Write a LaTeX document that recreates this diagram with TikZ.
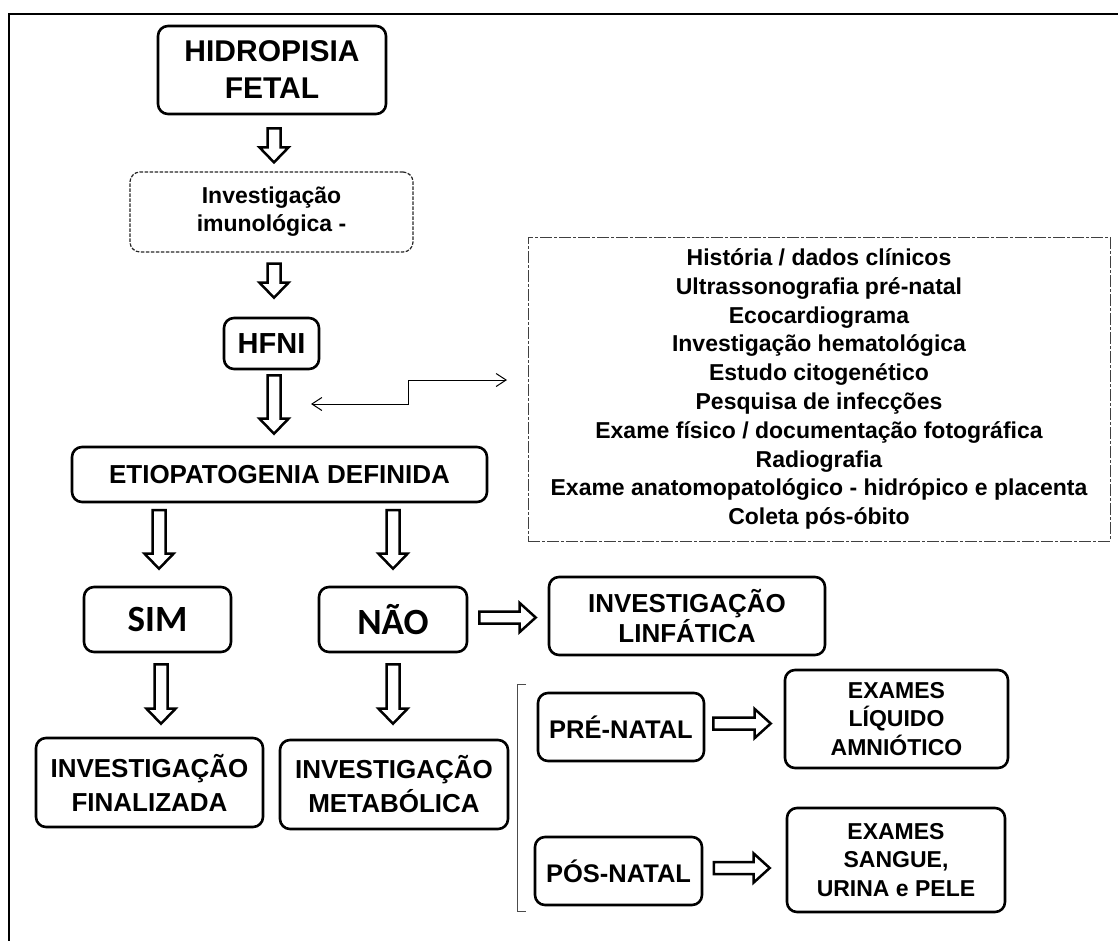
\documentclass[tikz,border=0pt]{standalone}
\usepackage{fontspec}
\setmainfont{Liberation Sans}
\newfontfamily\calib{Carlito}
\usetikzlibrary{calc,arrows.meta}
\tikzset{
  rbox/.style={draw, line width=2.6pt, rounded corners=10pt, align=center, inner sep=0pt, font=\bfseries},
  dbox/.style={draw=black!85, line width=1.2pt, dash pattern=on 3.5pt off 1.5pt, rounded corners=10pt, align=center, inner sep=0pt, font=\bfseries},
  lbox/.style={draw=black!75, line width=1pt, dash pattern=on 12pt off 2pt on 3pt off 2pt, align=center, inner sep=0pt, font=\bfseries},
  blk/.style={draw, fill=white, line width=2.5pt, line join=miter},
  thinarr/.style={line width=1pt, {Straight Barb[length=10pt,width=13pt]}-{Straight Barb[length=10pt,width=13pt]}},
}
\newcommand\varrow[2]{%
  \draw[blk] let \p1=(#1), \p2=(#2) in
  (\x1-6.5pt,\y1) -- (\x1+6.5pt,\y1) -- (\x1+6.5pt,\y2+15pt) -- (\x1+14.5pt,\y2+15pt)
  -- (\x1,\y2) -- (\x1-14.5pt,\y2+15pt) -- (\x1-6.5pt,\y2+15pt) -- cycle;}
\newcommand\harrow[2]{%
  \draw[blk] let \p1=(#1), \p2=(#2) in
  (\x1,\y1+6pt) -- (\x2-16pt,\y1+6pt) -- (\x2-16pt,\y1+14.5pt) -- (\x2,\y1)
  -- (\x2-16pt,\y1-14.5pt) -- (\x2-16pt,\y1-6pt) -- (\x1,\y1-6pt) -- cycle;}
\begin{document}
\begin{tikzpicture}[x=1pt,y=-1pt]
\useasboundingbox (0,0) rectangle (1118,940);
% outer frame (only top and left visible)
\coordinate (fbl) at (9,941);
\coordinate (ftl) at (9,14);
\coordinate (ftr) at (1119,14);
\draw[line width=2pt] (fbl) -- (ftl) -- (ftr);

% nodes
\node[rbox, minimum width=228pt, minimum height=88pt, font=\bfseries\fontsize{30}{37}\selectfont] (hf) at (272,70) {HIDROPISIA\\FETAL};
\node[dbox, minimum width=283pt, minimum height=80pt, font=\bfseries\fontsize{23}{28}\selectfont] (imu) at (271.5,212) {Investigação\\imunológica -};
\node[rbox, minimum width=95pt, minimum height=51pt, font=\bfseries\fontsize{29}{34}\selectfont] (hfni) at (271.5,343.5) {HFNI};
\node[rbox, minimum width=415pt, minimum height=55pt, font=\bfseries\fontsize{26}{31}\selectfont] (etio) at (279.5,474.5) {ETIOPATOGENIA DEFINIDA};
\node[rbox, minimum width=147pt, minimum height=65pt, font=\calib\bfseries\fontsize{37}{40}\selectfont] (sim) at (157.5,619.5) {SIM};
\node[rbox, minimum width=148pt, minimum height=65pt, font=\calib\bfseries\fontsize{37}{40}\selectfont] (nao) at (393,619.5) {NÃO};
\node[rbox, minimum width=227pt, minimum height=89pt, font=\bfseries\fontsize{26}{34}\selectfont] (fin) at (149.5,782.5) {INVESTIGAÇÃO\\FINALIZADA};
\node[rbox, minimum width=228pt, minimum height=89pt, font=\bfseries\fontsize{26}{34}\selectfont] (met) at (394,784.5) {INVESTIGAÇÃO\\METABÓLICA};
\node[rbox, minimum width=276pt, minimum height=78pt, font=\bfseries\fontsize{26}{30}\selectfont] (linf) at (687,616) {INVESTIGAÇÃO\\LINFÁTICA};
\node[rbox, minimum width=166pt, minimum height=68pt, font=\bfseries\fontsize{25.5}{30}\selectfont] (pre) at (621,727) {PRÉ-NATAL};
\node[rbox, minimum width=167pt, minimum height=68pt, font=\bfseries\fontsize{25.5}{30}\selectfont] (pos) at (618.5,871) {PÓS-NATAL};
\node[rbox, minimum width=223pt, minimum height=98pt, font=\bfseries\fontsize{23}{28.5}\selectfont] (exl) at (896.5,719) {EXAMES\\LÍQUIDO\\AMNIÓTICO};
\node[rbox, minimum width=218pt, minimum height=104pt, font=\bfseries\fontsize{23}{28.8}\selectfont] (exs) at (896,860) {EXAMES\\SANGUE,\\URINA e PELE};
\node[lbox, minimum width=582pt, minimum height=304pt, font=\bfseries\fontsize{23}{28.8}\selectfont] (lst) at (819,389)
 {História / dados clínicos\\Ultrassonografia pré-natal\\Ecocardiograma\\Investigação hematológica\\Estudo citogenético\\Pesquisa de infecções\\Exame físico / documentação fotográfica\\Radiografia\\Exame anatomopatológico - hidrópico e placenta\\Coleta pós-óbito};

% arrow end points
\coordinate (a1s) at ($(hf.south)+(2,13)$);   \coordinate (a1e) at ($(imu.north)+(2.5,-9)$);
\coordinate (a2s) at ($(imu.south)+(2.5,11)$); \coordinate (a2e) at ($(hfni.north)+(2.5,-19)$);
\coordinate (a3s) at ($(hfni.south)+(2.5,5)$); \coordinate (a3e) at ($(etio.north)+(-5.5,-12)$);
\coordinate (a4s) at (159,510); \coordinate (a4e) at ($(sim.north)+(1.5,-17)$);
\coordinate (a5s) at (393,510); \coordinate (a5e) at ($(nao.north)+(0,-17)$);
\coordinate (a6s) at ($(sim.south)+(3.5,11)$); \coordinate (a6e) at ($(fin.north)+(11.5,-13)$);
\coordinate (a7s) at ($(nao.south)+(0,11)$); \coordinate (a7e) at ($(met.north)+(-1,-15)$);
\coordinate (a8s) at ($(nao.east)+(11,-2)$); \coordinate (a8e) at ($(linf.west)+(-12,1.5)$);
\coordinate (a9s) at ($(pre.east)+(8,-3.5)$); \coordinate (a9e) at ($(exl.west)+(-13,4.5)$);
\coordinate (a10s) at ($(pos.east)+(10.5,-3)$); \coordinate (a10e) at ($(exs.west)+(-16,8)$);

\varrow{a1s}{a1e}
\varrow{a2s}{a2e}
\varrow{a3s}{a3e}
\varrow{a4s}{a4e}
\varrow{a5s}{a5e}
\varrow{a6s}{a6e}
\varrow{a7s}{a7e}
\harrow{a8s}{a8e}
\harrow{a9s}{a9e}
\harrow{a10s}{a10e}

% thin elbow connector
\coordinate (tl) at (311,404);
\coordinate (tr) at (507,380);
\draw[thinarr] (tl) -- (408,404) -- (408,380) -- (tr);

% bracket
\coordinate (bt) at (526,684);
\coordinate (bb) at (526,911);
\draw[black!70, line width=1pt] (bt) -- (517,684) -- (517,911) -- (bb);
\end{tikzpicture}
\end{document}
